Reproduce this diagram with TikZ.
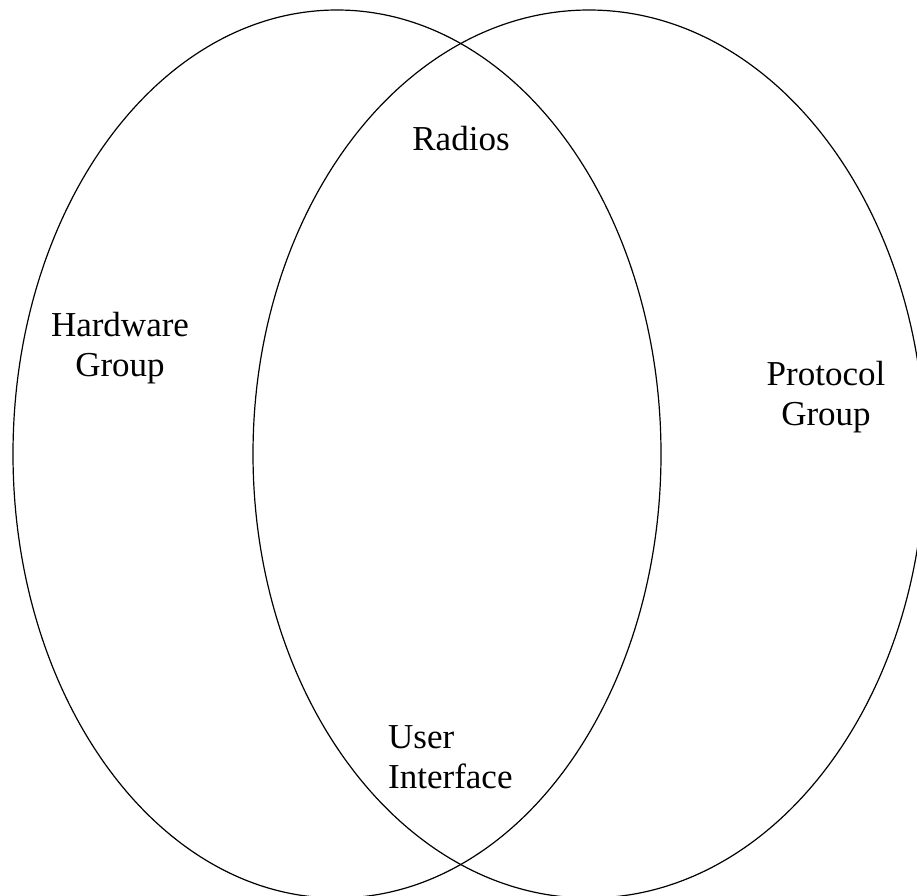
\documentclass[tikz,border=0pt]{standalone}
\usepackage{fontspec}
\setmainfont{Liberation Serif}
\begin{document}
\begin{tikzpicture}[x=1pt,y=-1pt,
  setring/.style={draw=black,line width=1.2pt},
  lbl/.style={font=\fontsize{35}{39.5}\selectfont,inner sep=0pt,anchor=base}]
\useasboundingbox (0,0) rectangle (917,895);
\draw[setring] (337,454) ellipse [x radius=324, y radius=444];
\draw[setring] (589,454) ellipse [x radius=336, y radius=444];
\node[lbl,align=center] (hw) at (120,376) {Hardware\\Group};
\node[lbl,align=center] (pg) at (826,425) {Protocol\\Group};
\node[lbl] (rad) at (461,150) {Radios};
\node[lbl,align=left,anchor=base west] (ui) at (388,788) {User\\Interface};
\end{tikzpicture}
\end{document}
